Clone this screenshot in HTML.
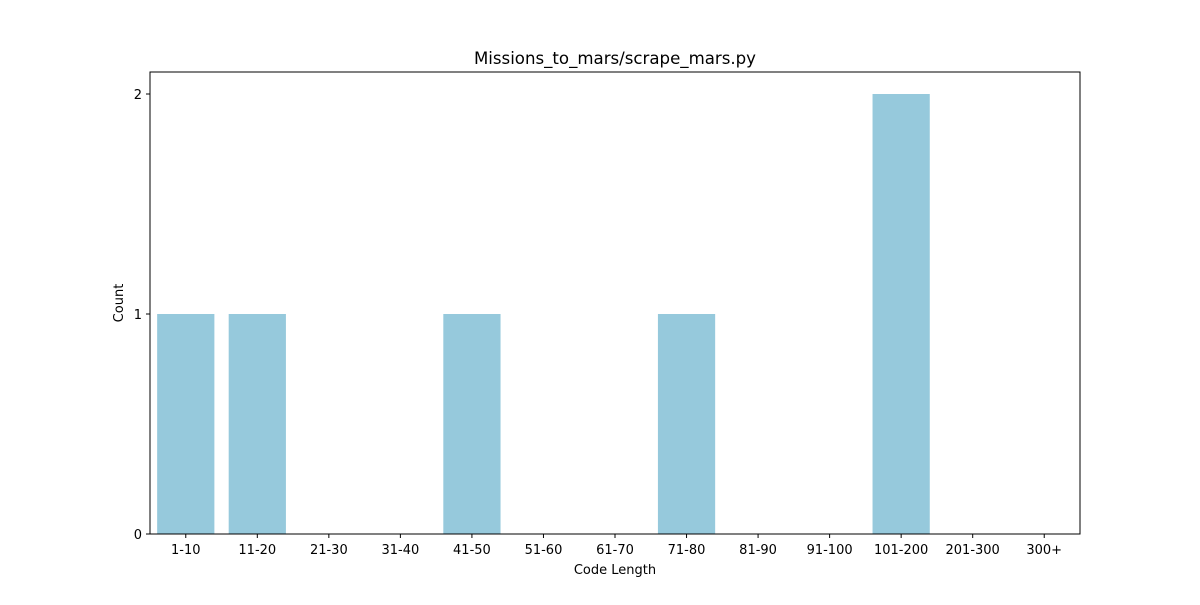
<!DOCTYPE html>
<html><head><meta charset="utf-8"><style>
body{margin:0;background:#fff;}
svg text{font-family:"DejaVu Sans","Liberation Sans",sans-serif;fill:#000;}
</style></head><body>
<svg id="chart" width="1200" height="600">
<rect width="1200" height="600" fill="#fff"/>
<text x="615" y="64" font-size="16.6" text-anchor="middle">Missions_to_mars/scrape_mars.py</text>
<g id="bars"></g>
<rect x="150" y="72" width="930" height="462" fill="none" stroke="#000" stroke-width="1"/>
<g id="xt"></g><g id="yt"></g>
<text x="615" y="574" font-size="13" text-anchor="middle">Code Length</text>
<text x="123" y="303" font-size="13" text-anchor="middle" transform="rotate(-90 123 303)">Count</text>
</svg>
<script>
const categories=["1-10","11-20","21-30","31-40","41-50","51-60","61-70","71-80","81-90","91-100","101-200","201-300","300+"];
const counts=[1,1,0,0,1,0,0,1,0,0,2,0,0];
const yTicks=[0,1,2];
const NS="http://www.w3.org/2000/svg";
const L=150,R=1080,T=72,B=534,yMax=2.1;
const band=(R-L)/categories.length;
const xc=i=>L+band*(i+0.5);
const y=v=>B-(v/yMax)*(B-T);
const bars=document.getElementById('bars'),xt=document.getElementById('xt'),yt=document.getElementById('yt');
function mk(t,a){const e=document.createElementNS(NS,t);for(const k in a)e.setAttribute(k,a[k]);return e;}
categories.forEach((c,i)=>{
 const w=band*0.8;
 if(counts[i]>0){
 const r=mk('rect',{x:xc(i)-w/2,y:y(counts[i]),width:w,height:B-y(counts[i]),fill:'#96c9dc'});
 
 
 bars.appendChild(r);
 }
 const tk=mk('line',{x1:xc(i),x2:xc(i),y1:B,y2:B+4,stroke:'#000'});
 
 
 xt.appendChild(tk);
 const tx=mk('text',{x:xc(i),y:B+20,'font-size':13,'text-anchor':'middle'});
 tx.textContent=c;
 
 
 xt.appendChild(tx);
});
yTicks.forEach(v=>{
 const tk=mk('line',{x1:L-4,x2:L,y1:y(v),y2:y(v),stroke:'#000'});
 
 
 yt.appendChild(tk);
 const tx=mk('text',{x:L-8,y:y(v)+5,'font-size':13,'text-anchor':'end'});
 tx.textContent=v;
 
 
 yt.appendChild(tx);
});
</script>
</body></html>
